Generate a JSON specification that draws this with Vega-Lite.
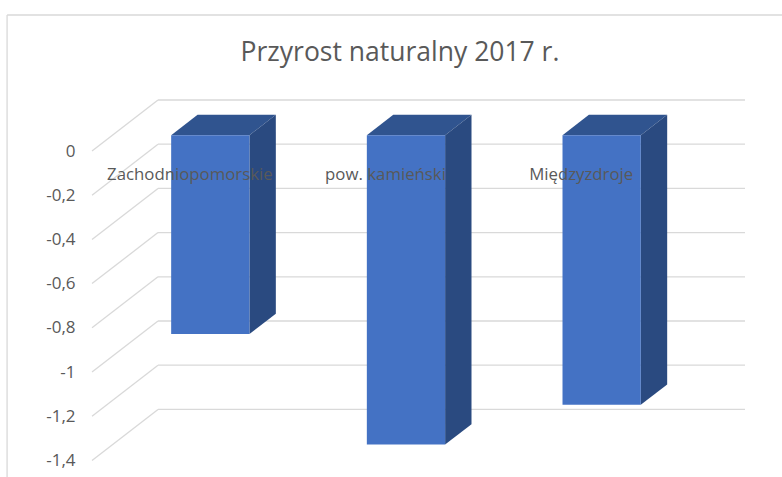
{
"$schema":"https://vega.github.io/schema/vega-lite/v6.json",
"width":782,"height":477,"autosize":{"type":"none"},"padding":0,"background":"white",
"view":{"stroke":null},
"config":{"axisY":{"domain":false,"ticks":false,"grid":false,"labelPadding":0,"labelFont":"Open Sans","labelFontSize":17,"labelColor":"#595959"}},
"params":[{"name":"k","value":0.3373},{"name":"h","value":0.2308},{"name":"d1","value":0.31},{"name":"d2","value":0.71},{"name":"hw","value":0.2}],
"title":{"text":"Przyrost naturalny 2017 r.","anchor":"middle","font":"Open Sans","fontSize":26.5,"fontWeight":"normal","color":"#595959","dx":9,"dy":70},
"datasets":{
"bars":[{"name":"Zachodniopomorskie","value":-0.9},{"name":"pow. kamieński","value":-1.4},{"name":"Międzyzdroje","value":-1.22}],
"levels":[{"tick":0},{"tick":-0.2},{"tick":-0.4},{"tick":-0.6},{"tick":-0.8},{"tick":-1},{"tick":-1.2},{"tick":-1.4}],
"frame":[{"part":"border"}]
},
"layer":[
{"data":{"name":"frame"},"mark":{"type":"rule","color":"#d9d9d9","strokeWidth":1.3},
"encoding":{"x":{"datum":-0.434,"type":"quantitative","scale":{"domain":[-0.4702,3.5263],"nice":false,"zero":false},"axis":null},
"y":{"datum":0.6155,"type":"quantitative","scale":{"domain":[-1.4751,0.6833],"nice":false,"zero":false},
"axis":{"title":null,"offset":-75,"values":[0,-0.2,-0.4,-0.6,-0.8,-1,-1.2,-1.4],"labelExpr":"datum.value==0?'0':'-'+replace(format(abs(datum.value),'.1~f'),'.',',')"}},
"y2":{"datum":-1.4751}}},
{"data":{"name":"frame"},"mark":{"type":"rule","color":"#d9d9d9","strokeWidth":1.3},
"encoding":{"x":{"datum":-0.434,"type":"quantitative","scale":{"domain":[-0.4702,3.5263],"nice":false,"zero":false},"axis":null},
"x2":{"datum":3.5263},
"y":{"datum":0.6155,"type":"quantitative","scale":{"domain":[-1.4751,0.6833],"nice":false,"zero":false},
"axis":{"title":null,"offset":-75,"values":[0,-0.2,-0.4,-0.6,-0.8,-1,-1.2,-1.4],"labelExpr":"datum.value==0?'0':'-'+replace(format(abs(datum.value),'.1~f'),'.',',')"}}}},
{"data":{"name":"levels"},"transform":[{"calculate":"datum.tick+h","as":"back"},{"calculate":"0","as":"x0"},{"calculate":"k","as":"x1"}],
"mark":{"type":"rule","color":"#d9d9d9","strokeWidth":1.3},
"encoding":{"x":{"field":"x0","type":"quantitative","scale":{"domain":[-0.4702,3.5263],"nice":false,"zero":false},"axis":null},
"x2":{"field":"x1"},
"y":{"field":"tick","type":"quantitative","scale":{"domain":[-1.4751,0.6833],"nice":false,"zero":false},
"axis":{"title":null,"offset":-75,"values":[0,-0.2,-0.4,-0.6,-0.8,-1,-1.2,-1.4],"labelExpr":"datum.value==0?'0':'-'+replace(format(abs(datum.value),'.1~f'),'.',',')"}},
"y2":{"field":"back"}}},
{"data":{"name":"levels"},"transform":[{"calculate":"datum.tick+h","as":"back"},{"calculate":"k","as":"x0"},{"calculate":"3+k","as":"x1"}],
"mark":{"type":"rule","color":"#d9d9d9","strokeWidth":1.3},
"encoding":{"x":{"field":"x0","type":"quantitative","scale":{"domain":[-0.4702,3.5263],"nice":false,"zero":false},"axis":null},
"x2":{"field":"x1"},
"y":{"field":"back","type":"quantitative","scale":{"domain":[-1.4751,0.6833],"nice":false,"zero":false},
"axis":{"title":null,"offset":-75,"values":[0,-0.2,-0.4,-0.6,-0.8,-1,-1.2,-1.4],"labelExpr":"datum.value==0?'0':'-'+replace(format(abs(datum.value),'.1~f'),'.',',')"}}}},
{"data":{"name":"bars"},"transform":[{"window":[{"op":"row_number","as":"rn"}]},{"calculate":"datum.rn-0.5","as":"c"},
{"calculate":"[0,1,2,3]","as":"pt"},{"flatten":["pt"]},
{"calculate":"[datum.c-hw+d1*k,datum.c-hw+d2*k,datum.c+hw+d1*k,datum.c+hw+d2*k][datum.pt]","as":"px"},
{"calculate":"[d1*h,d2*h,d2*h,d2*h][datum.pt]","as":"py"},
{"calculate":"[d1*h,d1*h,d1*h,d2*h][datum.pt]","as":"py2"}],
"mark":{"type":"area","orient":"vertical","color":"#30548f","interpolate":"linear"},
"encoding":{"x":{"field":"px","type":"quantitative","scale":{"domain":[-0.4702,3.5263],"nice":false,"zero":false},"axis":null},
"y":{"field":"py","type":"quantitative","stack":null,"scale":{"domain":[-1.4751,0.6833],"nice":false,"zero":false},
"axis":{"title":null,"offset":-75,"values":[0,-0.2,-0.4,-0.6,-0.8,-1,-1.2,-1.4],"labelExpr":"datum.value==0?'0':'-'+replace(format(abs(datum.value),'.1~f'),'.',',')"}},
"y2":{"field":"py2"},"detail":{"field":"name"}}},
{"data":{"name":"bars"},"transform":[{"window":[{"op":"row_number","as":"rn"}]},{"calculate":"datum.rn-0.5","as":"c"},
{"calculate":"[d1,d2]","as":"d"},{"flatten":["d"]},
{"calculate":"datum.c+hw+datum.d*k","as":"px"},
{"calculate":"datum.d*h","as":"py"},
{"calculate":"datum.value+datum.d*h","as":"py2"}],
"mark":{"type":"area","orient":"vertical","color":"#2a4a80","interpolate":"linear"},
"encoding":{"x":{"field":"px","type":"quantitative","scale":{"domain":[-0.4702,3.5263],"nice":false,"zero":false},"axis":null},
"y":{"field":"py","type":"quantitative","stack":null,"scale":{"domain":[-1.4751,0.6833],"nice":false,"zero":false},
"axis":{"title":null,"offset":-75,"values":[0,-0.2,-0.4,-0.6,-0.8,-1,-1.2,-1.4],"labelExpr":"datum.value==0?'0':'-'+replace(format(abs(datum.value),'.1~f'),'.',',')"}},
"y2":{"field":"py2"},"detail":{"field":"name"}}},
{"data":{"name":"bars"},"transform":[{"window":[{"op":"row_number","as":"rn"}]},{"calculate":"datum.rn-0.5","as":"c"},
{"calculate":"datum.c-hw+d1*k","as":"x0"},{"calculate":"datum.c+hw+d1*k","as":"x1"},
{"calculate":"d1*h","as":"top"},{"calculate":"datum.value+d1*h","as":"bottom"}],
"mark":{"type":"rect","color":"#4472c4"},
"encoding":{"x":{"field":"x0","type":"quantitative","scale":{"domain":[-0.4702,3.5263],"nice":false,"zero":false},"axis":null},
"x2":{"field":"x1"},
"y":{"field":"top","type":"quantitative","scale":{"domain":[-1.4751,0.6833],"nice":false,"zero":false},
"axis":{"title":null,"offset":-75,"values":[0,-0.2,-0.4,-0.6,-0.8,-1,-1.2,-1.4],"labelExpr":"datum.value==0?'0':'-'+replace(format(abs(datum.value),'.1~f'),'.',',')"}},
"y2":{"field":"bottom"}}},
{"data":{"name":"bars"},"transform":[{"window":[{"op":"row_number","as":"rn"}]},{"calculate":"datum.rn-0.5","as":"c"}],
"mark":{"type":"text","font":"Open Sans","fontSize":16.8,"color":"#595959","align":"center","baseline":"middle"},
"encoding":{"x":{"field":"c","type":"quantitative","scale":{"domain":[-0.4702,3.5263],"nice":false,"zero":false},"axis":null},
"y":{"datum":-0.109,"type":"quantitative","scale":{"domain":[-1.4751,0.6833],"nice":false,"zero":false},
"axis":{"title":null,"offset":-75,"values":[0,-0.2,-0.4,-0.6,-0.8,-1,-1.2,-1.4],"labelExpr":"datum.value==0?'0':'-'+replace(format(abs(datum.value),'.1~f'),'.',',')"}},
"text":{"field":"name"}}}
]
}
